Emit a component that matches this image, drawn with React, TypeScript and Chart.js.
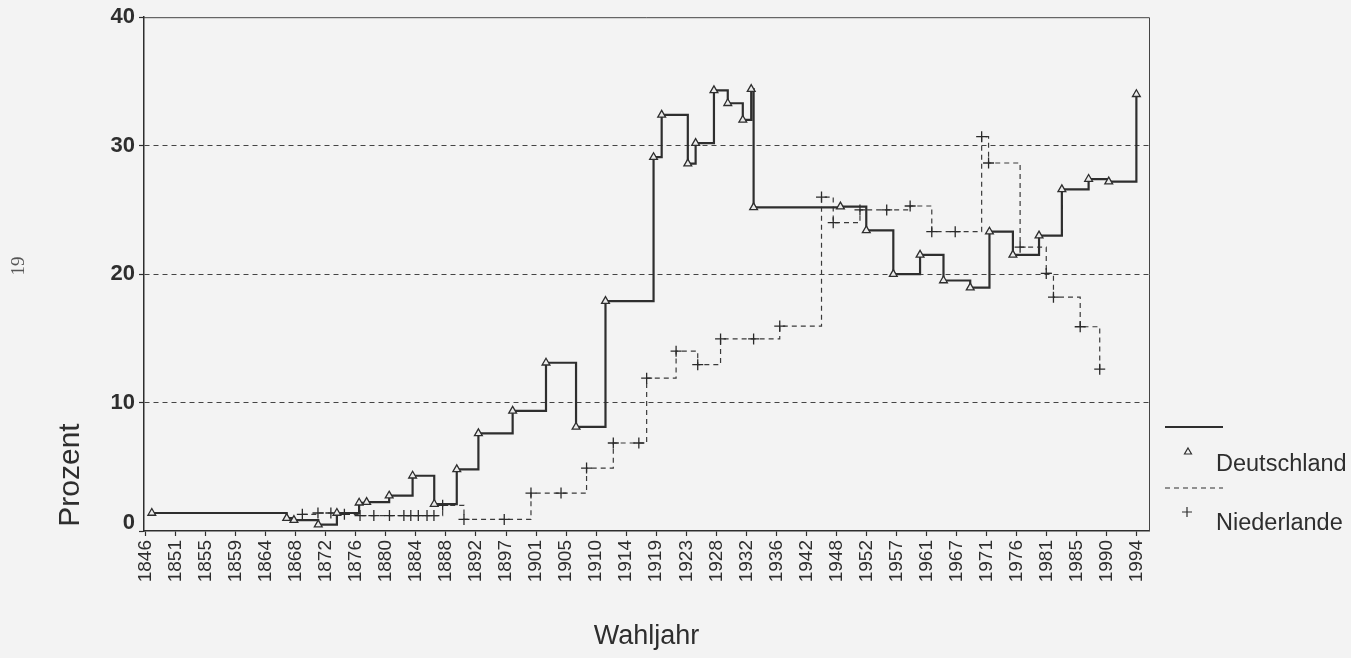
import React, { useEffect, useRef } from 'react';
import { Chart, registerables } from 'chart.js';

Chart.register(...registerables);

// Tick labels of the (index-based) election-year axis, evenly spaced
const xTickLabels = ['1846','1851','1855','1859','1864','1868','1872','1876','1880','1884','1888','1892','1897','1901','1905','1910','1914','1919','1923','1928','1932','1936','1942','1948','1952','1957','1961','1967','1971','1976','1981','1985','1990','1994'];
const yTickValues = [0, 10, 20, 30, 40];

// Deutschland: election, position on the axis (tick units), percent
const deElections = ['1848','1867','1867','1871','1874','1877','1878','1881','1884','1887','1890','1893','1898','1903','1907','1912','1919','1920','1924','1924','1928','1930','1932','1932','1933','1949','1953','1957','1961','1965','1969','1972','1976','1980','1983','1987','1990','1994'];
const dePosition = [0.21,4.70,4.94,5.75,6.37,7.11,7.36,8.11,8.89,9.61,10.36,11.08,12.22,13.33,14.33,15.31,16.91,17.18,18.05,18.31,18.92,19.38,19.88,20.16,20.24,23.13,23.99,24.89,25.78,26.56,27.45,28.09,28.87,29.74,30.50,31.39,32.06,32.98];
const deShare = [1.4,1.0,0.85,0.5,1.4,2.2,2.25,2.75,4.3,2.1,4.8,7.6,9.35,13.1,8.1,17.9,29.1,32.4,28.6,30.2,34.3,33.3,32.0,34.4,25.2,25.25,23.4,20.0,21.5,19.5,18.95,23.3,21.5,23.0,26.6,27.4,27.2,34.0];

// Niederlande
const nlElections = ['1869','1871','1873','1875','1877','1879','1881','1883','1884','1886','1887','1888','1891','1894','1897','1901','1905','1909','1913','1917','1918','1922','1925','1929','1933','1937','1946','1948','1952','1956','1959','1963','1967','1971','1972','1977','1981','1982','1986','1989'];
const nlPosition = [5.22,5.74,6.17,6.62,7.14,7.60,8.12,8.60,8.83,9.08,9.37,9.60,9.89,10.60,11.94,12.83,13.83,14.68,15.57,16.42,16.68,17.66,18.38,19.14,20.24,21.11,22.5,22.89,23.78,24.67,25.45,26.17,26.95,27.83,28.06,29.11,29.98,30.22,31.11,31.76];
const nlShare = [1.3,1.4,1.4,1.3,1.2,1.2,1.2,1.2,1.2,1.2,1.2,1.2,2.0,0.9,0.9,2.95,2.95,4.9,6.85,6.85,11.9,14.0,12.95,14.95,14.95,15.95,26.0,24.0,25.0,25.0,25.3,23.3,23.3,30.7,28.65,22.1,20.05,18.2,15.9,12.6];

const seriesNames = ['Deutschland', 'Niederlande'];
const xTitle = 'Wahljahr';
const yTitle = 'Prozent';
const pageNumber = '19';

const FONT = '"Liberation Sans", Arial, sans-serif';
const INK = '#2e2e2e';
const Y_FONT = { family: FONT, size: 22, weight: 'bold' as const };

const decorPlugin = {
  id: 'decor',
  beforeDatasetsDraw(chart: any) {
    const { ctx, chartArea: a } = chart;
    ctx.save();
    ctx.strokeStyle = '#444';
    ctx.lineWidth = 1;
    ctx.beginPath();
    ctx.moveTo(a.left, a.top + 0.5);
    ctx.lineTo(a.right + 0.5, a.top + 0.5);
    ctx.lineTo(a.right + 0.5, a.bottom);
    ctx.stroke();
    ctx.restore();
  },
  afterDraw(chart: any) {
    const { ctx, chartArea: a } = chart;
    ctx.save();
    ctx.fillStyle = INK;
    // the zero label sits a little above the axis in the original
    ctx.font = `bold 22px ${FONT}`;
    ctx.textAlign = 'right';
    ctx.textBaseline = 'middle';
    ctx.fillText(String(yTickValues[0]), a.left - 9, chart.scales.y.getPixelForValue(yTickValues[0]) - 8);
    // axis titles
    ctx.font = `27px ${FONT}`;
    ctx.textAlign = 'center';
    ctx.fillText(xTitle, (a.left + a.right) / 2, 637);
    ctx.save();
    ctx.translate(71, 475);
    ctx.rotate(-Math.PI / 2);
    ctx.font = `30px ${FONT}`;
    ctx.fillText(yTitle, 0, 0);
    ctx.restore();
    // stray page number of the scan
    ctx.save();
    ctx.translate(19, 266);
    ctx.rotate(-Math.PI / 2);
    ctx.font = `19px "Liberation Serif", "DejaVu Serif", serif`;
    ctx.fillStyle = '#555';
    ctx.fillText(pageNumber, 0, 0);
    ctx.restore();

    // legend
    const lx0 = 1165, lx1 = 1223;
    ctx.strokeStyle = INK;
    ctx.lineWidth = 2;
    ctx.beginPath();
    ctx.moveTo(lx0, 427);
    ctx.lineTo(lx1, 427);
    ctx.stroke();
    ctx.lineWidth = 1.2;
    ctx.beginPath();
    ctx.moveTo(1188, 448);
    ctx.lineTo(1191.5, 454);
    ctx.lineTo(1184.5, 454);
    ctx.closePath();
    ctx.stroke();
    ctx.font = `23.5px ${FONT}`;
    ctx.textAlign = 'left';
    ctx.fillText(seriesNames[0], 1216, 465);
    ctx.setLineDash([5, 4]);
    ctx.lineWidth = 1.2;
    ctx.beginPath();
    ctx.moveTo(lx0, 488);
    ctx.lineTo(lx1, 488);
    ctx.stroke();
    ctx.setLineDash([]);
    ctx.beginPath();
    ctx.moveTo(1182, 512);
    ctx.lineTo(1192, 512);
    ctx.moveTo(1187, 507);
    ctx.lineTo(1187, 517);
    ctx.stroke();
    ctx.fillText(seriesNames[1], 1216, 524);
    ctx.restore();
  },
};

export default function App() {
  const ref = useRef<HTMLCanvasElement>(null);

  useEffect(() => {
    const canvas = ref.current;
    if (!canvas) return;
    const chart = new Chart(canvas, {
      type: 'line',
      data: {
        datasets: [
          {
            label: seriesNames[0],
            data: dePosition.map((x, i) => ({ x, y: deShare[i], e: deElections[i] })) as any,
            borderColor: INK,
            borderWidth: 2.2,
            stepped: 'before',
            pointStyle: 'triangle',
            pointRadius: 4.5,
            pointBorderWidth: 1.3,
            pointBorderColor: INK,
            pointBackgroundColor: 'rgba(235,235,235,1)',
            fill: false,
          } as any,
          {
            label: seriesNames[1],
            data: nlPosition.map((x, i) => ({ x, y: nlShare[i], e: nlElections[i] })) as any,
            borderColor: '#3a3a3a',
            borderWidth: 1.2,
            borderDash: [5, 4],
            stepped: 'before',
            pointStyle: 'cross',
            pointRadius: 5.5,
            pointBorderWidth: 1.3,
            pointBorderColor: '#2a2a2a',
            fill: false,
          } as any,
        ],
      },
      options: {
        responsive: false,
        animation: false,
        events: [],
        layout: { padding: { left: 0, top: 15, right: 202, bottom: 0 } },
        plugins: { legend: { display: false }, tooltip: { enabled: false } },
        scales: {
          x: {
            type: 'linear',
            min: -0.05,
            max: 33.4,
            afterBuildTicks: (s: any) => {
              s.ticks = xTickLabels.map((_, i) => ({ value: i }));
            },
            afterFit: (s: any) => {
              s.height = 127;
            },
            ticks: {
              autoSkip: false,
              minRotation: 90,
              maxRotation: 90,
              padding: 4,
              color: INK,
              font: { family: FONT, size: 19 },
              callback: (_v: any, i: number) => xTickLabels[i],
            },
            grid: {
              drawOnChartArea: false,
              drawTicks: true,
              tickLength: 5,
              tickColor: INK,
              tickWidth: 1.2,
            },
            border: { color: INK, width: 1.5 },
          },
          y: {
            type: 'linear',
            min: 0,
            max: 40,
            afterBuildTicks: (s: any) => {
              s.ticks = yTickValues.map((v) => ({ value: v }));
            },
            afterFit: (s: any) => {
              s.width = 144;
            },
            ticks: {
              padding: 4,
              color: INK,
              font: Y_FONT,
              callback: (v: any) => (v === yTickValues[0] ? '' : String(v)),
            },
            grid: {
              color: (c: any) => ([10, 20, 30].includes(c.tick?.value) ? '#444' : 'rgba(0,0,0,0)'),
              lineWidth: 1,
              drawTicks: true,
              tickLength: 5,
              tickColor: INK,
              tickWidth: 1.2,
            },
            border: { color: INK, width: 1.5, dash: [5, 4] },
          },
        },
      },
      plugins: [decorPlugin],
    });
    return () => chart.destroy();
  }, []);

  return (
    <div style={{ position: 'fixed', left: 0, top: 0, width: 1351, height: 658, background: '#f3f3f3' }}>
      <canvas ref={ref} width={1351} height={658} style={{ display: 'block' }} />
    </div>
  );
}
